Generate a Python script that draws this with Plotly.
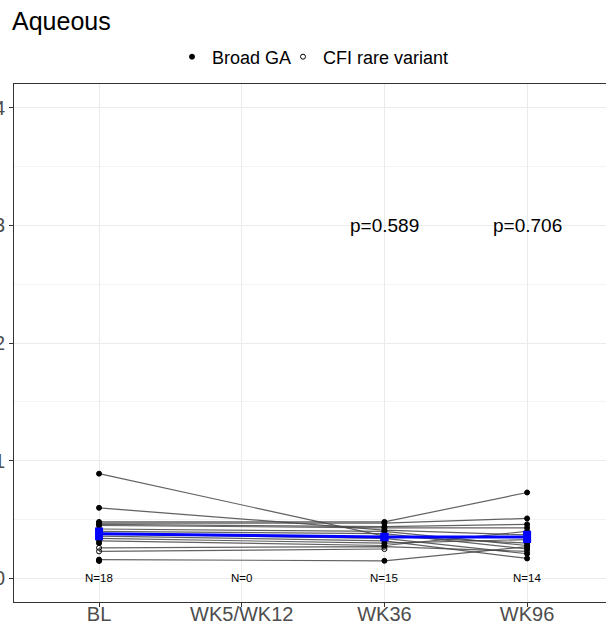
import numpy as np
import plotly.graph_objects as go

categories = ["BL", "WK5/WK12", "WK36", "WK96"]
cat_x = [1, 2, 3, 4]

# per-subject values (None = missing)
bl   = [0.89, 0.60, 0.48, 0.47, 0.46, 0.45, 0.42, 0.40, 0.38, 0.36, 0.34, 0.32, 0.30, 0.26, 0.23, 0.16, 0.15, 0.15]
wk12 = [None] * 18
wk36 = [0.36, 0.41, 0.48, 0.47, 0.44, 0.43, 0.40, 0.38, 0.34, 0.32, 0.30, 0.28, None, 0.27, 0.25, 0.15, None, None]
wk96 = [0.30, 0.37, 0.73, 0.51, 0.46, 0.43, 0.28, 0.25, 0.21, 0.17, 0.33, 0.40, None, 0.23, None, 0.27, None, None]
group = ["Broad GA"] * 13 + ["CFI rare variant"] * 2 + ["Broad GA"] * 3

p_labels = {3: "p=0.589", 4: "p=0.706"}

visits = [bl, wk12, wk36, wk96]

fig = go.Figure()

# subject lines
for i in range(len(bl)):
    xs, ys = [], []
    for k, v in enumerate(visits):
        if v[i] is not None:
            xs.append(cat_x[k]); ys.append(v[i])
    fig.add_trace(go.Scatter(x=xs, y=ys, mode="lines",
                             line=dict(color="rgba(70,70,70,0.85)", width=1.2),
                             showlegend=False, hoverinfo="skip"))

# points by group
for g, sym, lg in [("Broad GA", "circle", "legend"),
                   ("CFI rare variant", "circle-open", "legend2")]:
    xs, ys = [], []
    for i in range(len(bl)):
        if group[i] != g:
            continue
        for k, v in enumerate(visits):
            if v[i] is not None:
                xs.append(cat_x[k]); ys.append(v[i])
    fig.add_trace(go.Scatter(x=xs, y=ys, mode="markers", name=g, legend=lg,
                             marker=dict(symbol=sym, size=5, color="black",
                                         line=dict(color="black", width=1))))

# means and SE
mx, my, mse = [], [], []
counts = []
for k, v in enumerate(visits):
    vals = np.array([a for a in v if a is not None], dtype=float)
    counts.append(len(vals))
    if len(vals) > 0:
        mx.append(cat_x[k]); my.append(vals.mean())
        mse.append(vals.std(ddof=1) / np.sqrt(len(vals)))

fig.add_trace(go.Scatter(x=mx, y=my, mode="lines+markers",
                         line=dict(color="#0000FF", width=3),
                         marker=dict(symbol="square", size=8, color="#0000FF"),
                         error_y=dict(type="data", array=mse, color="#0000FF",
                                      thickness=3, width=4),
                         showlegend=False))

annotations = []
for k, c in enumerate(counts):
    annotations.append(dict(x=cat_x[k], y=0, text=f"N={c}", showarrow=False,
                            font=dict(size=11.5, color="black"),
                            xanchor="center", yanchor="middle"))
for xv, t in p_labels.items():
    annotations.append(dict(x=xv, y=3, text=t, showarrow=False,
                            font=dict(size=19, color="black"),
                            xanchor="center", yanchor="middle"))

leg_common = dict(orientation="h", xanchor="left", y=1 + 27 / 518,
                  yanchor="middle", font=dict(size=18, color="black"),
                  itemsizing="trace", itemwidth=30, bgcolor="rgba(0,0,0,0)")

fig.update_layout(
    width=606, height=630,
    margin=dict(l=14, r=0, t=84, b=28),
    paper_bgcolor="white", plot_bgcolor="white",
    font=dict(family="Liberation Sans, Arial, sans-serif", color="black"),
    title=dict(text="Aqueous", x=12 / 606, xref="container", xanchor="left",
               y=1 - 21 / 630, yref="container", yanchor="middle",
               font=dict(size=25, color="black")),
    legend=dict(x=(172 - 14) / 592, **leg_common),
    legend2=dict(x=(283 - 14) / 592, **leg_common),
    annotations=annotations,
    showlegend=True,
)
fig.update_xaxes(range=[0.404, 4.553], tickvals=cat_x, ticktext=categories,
                 showgrid=True, gridcolor="#ebebeb", gridwidth=1,
                 showline=True, linecolor="#333333", linewidth=1, mirror=True,
                 ticks="outside", ticklen=4, tickcolor="#333333",
                 ticklabelstandoff=-10,
                 tickfont=dict(size=20, color="#4d4d4d"),
                 zeroline=False, automargin=False)
fig.update_yaxes(range=[-0.2, 4.2], tickvals=[0, 1, 2, 3, 4],
                 showgrid=True, gridcolor="#ebebeb", gridwidth=1,
                 minor=dict(tickvals=[0.5, 1.5, 2.5, 3.5], showgrid=True,
                            gridcolor="#f3f3f3", gridwidth=1),
                 showline=True, linecolor="#333333", linewidth=1, mirror=False,
                 ticks="outside", ticklen=4, tickcolor="#333333",
                 tickfont=dict(size=20, color="#4d4d4d"),
                 zeroline=False, automargin=False)

fig.write_html("out.html", config={"displayModeBar": False},
               post_script="document.body.style.margin='0px';"
                           "document.body.style.overflow='hidden';")
